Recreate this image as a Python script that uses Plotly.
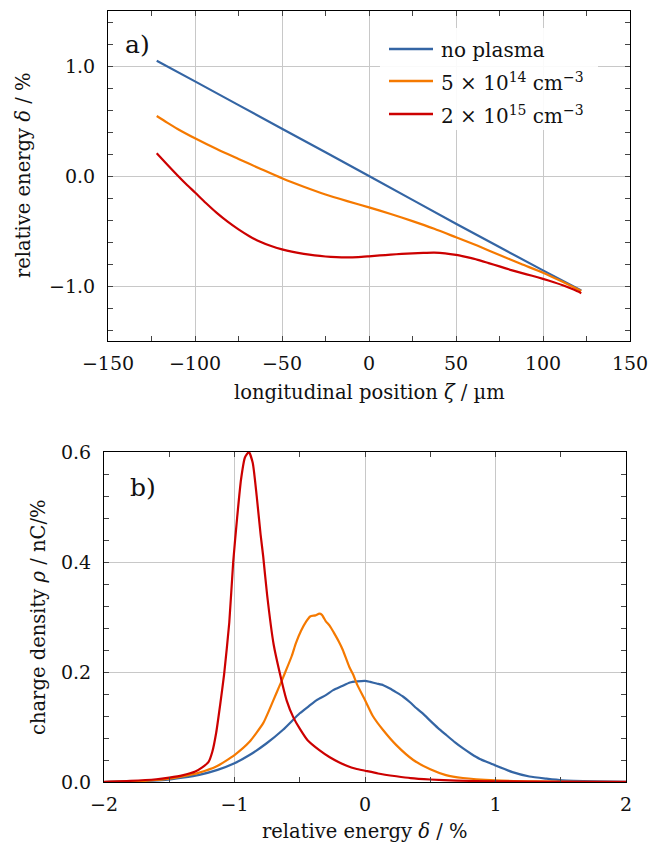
import plotly.graph_objects as go

W, H = 662, 846
BODY = 8  # default page margin around the plot div

# ---------------- data: panel a) ----------------
zeta_blue = [-122, -100, -50, 0, 50, 100, 122]
delta_blue = [1.048, 0.86, 0.43, 0.0, -0.434, -0.858, -1.04]

zeta_orange = [-122, -116, -110, -100, -87.5, -75, -62.5, -50, -37.5, -25, -12.5, 0, 12.5, 25, 37.5, 50, 62.5, 75, 87.5, 100, 111, 122]
delta_orange = [0.545, 0.485, 0.428, 0.343, 0.245, 0.155, 0.066, -0.021, -0.098, -0.168, -0.228, -0.285, -0.345, -0.41, -0.48, -0.557, -0.635, -0.718, -0.80, -0.879, -0.96, -1.045]

zeta_red = [-122, -116, -110, -105, -100, -93.75, -87.5, -81.25, -75, -68.75, -62.5, -56.25, -50, -43.75, -37.5, -31.25, -25, -18.75, -12.5, -6.25, 0, 6.25, 12.5, 18.75, 25, 31.25, 37.5, 43.75, 50, 56.25, 62.5, 68.75, 75, 81.25, 87.5, 93.75, 100, 106.25, 112.5, 118, 122]
delta_red = [0.206, 0.105, 0.005, -0.075, -0.15, -0.245, -0.335, -0.415, -0.485, -0.547, -0.597, -0.637, -0.667, -0.69, -0.708, -0.722, -0.732, -0.738, -0.74, -0.737, -0.73, -0.722, -0.715, -0.708, -0.703, -0.699, -0.697, -0.703, -0.717, -0.738, -0.762, -0.792, -0.822, -0.853, -0.881, -0.907, -0.935, -0.966, -1.0, -1.035, -1.065]

# ---------------- data: panel b) ----------------
d_blue = [-2.0, -1.78, -1.53, -1.4, -1.27, -1.13, -1.0, -0.885, -0.756, -0.628, -0.5, -0.43, -0.37, -0.3, -0.244, -0.18, -0.115, -0.06, 0.0, 0.04, 0.089, 0.14, 0.191, 0.24, 0.293, 0.345, 0.395, 0.45, 0.497, 0.56, 0.625, 0.69, 0.752, 0.815, 0.88, 0.94, 1.0, 1.13, 1.26, 1.39, 1.51, 1.77, 2.0]
rho_blue = [0.0, 0.001, 0.004, 0.008, 0.013, 0.022, 0.034, 0.049, 0.070, 0.095, 0.125, 0.138, 0.149, 0.158, 0.167, 0.174, 0.181, 0.183, 0.184, 0.182, 0.179, 0.176, 0.170, 0.163, 0.155, 0.145, 0.134, 0.123, 0.112, 0.098, 0.085, 0.072, 0.061, 0.051, 0.042, 0.036, 0.030, 0.018, 0.010, 0.006, 0.003, 0.0012, 0.0005]

d_orange = [-2.0, -1.78, -1.53, -1.4, -1.27, -1.14, -1.0, -0.885, -0.78, -0.73, -0.68, -0.64, -0.6, -0.56, -0.53, -0.49, -0.45, -0.42, -0.38, -0.35, -0.33, -0.3, -0.27, -0.24, -0.2, -0.17, -0.12, -0.09, -0.06, 0.0, 0.06, 0.14, 0.24, 0.37, 0.5, 0.62, 0.75, 1.0, 1.3, 1.6, 2.0]
rho_orange = [0.0, 0.001, 0.005, 0.010, 0.017, 0.028, 0.049, 0.073, 0.107, 0.133, 0.161, 0.183, 0.206, 0.230, 0.252, 0.275, 0.292, 0.301, 0.303, 0.306, 0.304, 0.292, 0.284, 0.272, 0.255, 0.240, 0.209, 0.195, 0.177, 0.149, 0.120, 0.094, 0.067, 0.040, 0.023, 0.0125, 0.0073, 0.003, 0.001, 0.0003, 0.0]

d_red = [-2.0, -1.8, -1.6, -1.5, -1.4, -1.3, -1.25, -1.2, -1.17, -1.14, -1.11, -1.08, -1.04, -1.01, -0.98, -0.95, -0.92, -0.89, -0.86, -0.83, -0.8, -0.78, -0.75, -0.7, -0.65, -0.6, -0.55, -0.5, -0.44, -0.35, -0.27, -0.2, -0.14, -0.07, 0.0, 0.1, 0.24, 0.35, 0.5, 0.7, 1.0, 1.5, 2.0]
rho_red = [0.0005, 0.002, 0.005, 0.008, 0.012, 0.019, 0.026, 0.036, 0.055, 0.09, 0.14, 0.195, 0.29, 0.40, 0.48, 0.55, 0.59, 0.600, 0.58, 0.52, 0.45, 0.41, 0.34, 0.25, 0.195, 0.148, 0.118, 0.097, 0.076, 0.058, 0.045, 0.036, 0.0295, 0.024, 0.0205, 0.0155, 0.0104, 0.007, 0.0045, 0.0025, 0.0012, 0.0004, 0.0001]

series_names = ["no plasma", "5 × 10<sup>14</sup> cm<sup>−3</sup>", "2 × 10<sup>15</sup> cm<sup>−3</sup>"]
colors = ["#3465a4", "#f57900", "#cc0000"]

FONT = "DejaVu Serif"
TICK_FS = 19
TITLE_FS = 19.5
LEG_FS = 20

FW, FH = W - BODY, H - BODY  # figure size so that it ends at the window edge


def px(x):
    """window pixel x -> paper fraction"""
    return (x - BODY) / FW


def py(y):
    """window pixel y (from top) -> paper fraction"""
    return 1 - (y - BODY) / FH


fig = go.Figure()

top_x = [zeta_blue, zeta_orange, zeta_red]
top_y = [delta_blue, delta_orange, delta_red]
for xs, ys, c, n in zip(top_x, top_y, colors, series_names):
    fig.add_trace(go.Scatter(x=xs, y=ys, mode="lines", name=n, line=dict(color=c, width=2.2, shape="spline", smoothing=0.6),
                             xaxis="x", yaxis="y", showlegend=False))

bot_x = [d_blue, d_orange, d_red]
bot_y = [rho_blue, rho_orange, rho_red]
for xs, ys, c, n in zip(bot_x, bot_y, colors, series_names):
    fig.add_trace(go.Scatter(x=xs, y=ys, mode="lines", name=n, line=dict(color=c, width=2.2, shape="spline", smoothing=0.5),
                             xaxis="x2", yaxis="y2", showlegend=False))

axis_common = dict(
    showline=True, linecolor="black", linewidth=1, mirror="allticks",
    ticks="inside", ticklen=5, tickcolor="#444", tickwidth=1,
    showgrid=True, gridcolor="#c8c8c8", gridwidth=1, zeroline=False, automargin=False,
    tickfont=dict(family=FONT, size=TICK_FS, color="#111"),
)

fig.update_layout(
    width=FW, height=FH,
    margin=dict(l=0, r=0, t=0, b=0, autoexpand=False),
    paper_bgcolor="white", plot_bgcolor="white",
    showlegend=False,
    font=dict(family=FONT, size=TICK_FS, color="#111"),
    xaxis=dict(domain=[px(108), px(630)], range=[-150, 150], tickmode="linear", tick0=0, dtick=50,
               minor=dict(dtick=25, ticks="inside", ticklen=5, tickcolor="#444", showgrid=False),
               anchor="y", ticklabelstandoff=5, **axis_common),
    yaxis=dict(domain=[py(341), py(11)], range=[-1.5, 1.5], tickmode="linear", tick0=0, dtick=1, tickformat=".1f",
               minor=dict(dtick=0.2, ticks="inside", ticklen=5, tickcolor="#444", showgrid=False),
               anchor="x", ticklabelstandoff=8, **axis_common),
    xaxis2=dict(domain=[px(104), px(626)], range=[-2, 2], tickmode="linear", tick0=0, dtick=1,
                minor=dict(dtick=0.5, ticks="inside", ticklen=5, tickcolor="#444", showgrid=False),
                anchor="y2", ticklabelstandoff=5, **axis_common),
    yaxis2=dict(domain=[py(782), py(452)], range=[0, 0.6], tickmode="linear", tick0=0, dtick=0.2, tickformat=".1f",
                minor=dict(dtick=0.04, ticks="inside", ticklen=5, tickcolor="#444", showgrid=False),
                anchor="x2", ticklabelstandoff=8, **axis_common),
)

shapes = []
# legend background (hides grid lines behind the legend)
shapes.append(dict(type="rect", xref="paper", yref="paper", x0=px(380), x1=px(598), y0=py(130), y1=py(28),
                   fillcolor="rgba(255,255,255,0.9)", line=dict(width=0), layer="above"))
legend_y = [49, 81, 114]
for ly, c in zip(legend_y, colors):
    shapes.append(dict(type="line", xref="paper", yref="paper", x0=px(389), x1=px(433), y0=py(ly), y1=py(ly),
                       line=dict(color=c, width=2.4), layer="above"))
fig.update_layout(shapes=shapes)

ann = []
for ly, n in zip(legend_y, series_names):
    ann.append(dict(xref="paper", yref="paper", x=px(439), y=py(ly + 1), text=n, showarrow=False,
                    xanchor="left", yanchor="middle", font=dict(family=FONT, size=LEG_FS, color="#111")))
# panel labels
ann.append(dict(xref="paper", yref="paper", x=px(123), y=py(45), text="a)", showarrow=False,
                xanchor="left", yanchor="middle", font=dict(family=FONT, size=25, color="#111")))
ann.append(dict(xref="paper", yref="paper", x=px(128), y=py(487), text="b)", showarrow=False,
                xanchor="left", yanchor="middle", font=dict(family=FONT, size=25, color="#111")))
# axis titles
ann.append(dict(xref="paper", yref="paper", x=px(369), y=py(393), text="longitudinal position <i>ζ</i> / µm",
                showarrow=False, xanchor="center", yanchor="middle", font=dict(family=FONT, size=TITLE_FS, color="#111")))
ann.append(dict(xref="paper", yref="paper", x=px(24), y=py(176), text="relative energy <i>δ</i> / %", textangle=-90,
                showarrow=False, xanchor="center", yanchor="middle", font=dict(family=FONT, size=TITLE_FS, color="#111")))
ann.append(dict(xref="paper", yref="paper", x=px(365), y=py(831), text="relative energy <i>δ</i> / %",
                showarrow=False, xanchor="center", yanchor="middle", font=dict(family=FONT, size=TITLE_FS, color="#111")))
ann.append(dict(xref="paper", yref="paper", x=px(38), y=py(617), text="charge density <i>ρ</i> / nC/%", textangle=-90,
                showarrow=False, xanchor="center", yanchor="middle", font=dict(family=FONT, size=TITLE_FS, color="#111")))
fig.update_layout(annotations=ann)

fig.write_html("out.html")
